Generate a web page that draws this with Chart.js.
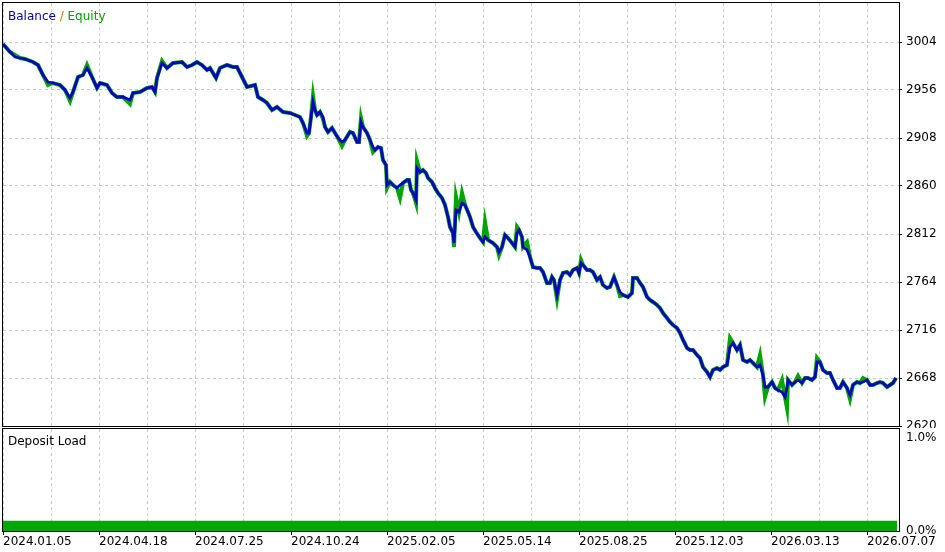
<!DOCTYPE html>
<html>
<head>
<meta charset="utf-8">
<script src="https://cdn.jsdelivr.net/npm/chart.js@4/dist/chart.umd.min.js"></script>
<style>
    html, body { margin: 0; padding: 0; background: #fff; }
    #balanceChart { position: absolute; left: 0; top: 0; }
    #loadChart { position: absolute; left: 0; top: 428px; }
</style>
</head>
<body>
<canvas id="balanceChart" width="945" height="428"></canvas>
<canvas id="loadChart" width="945" height="124"></canvas>
<script>
// deal number (x) for every sample
const deals = [
    0, 7, 12, 17, 22, 30, 35, 40, 45, 50,
    57, 62, 67, 70, 75, 80, 84, 89, 94, 97,
    104, 109, 114, 120, 127, 130, 137, 144, 149, 152,
    154, 159, 164, 170, 179, 184, 189, 194, 199, 204,
    207, 213, 217, 224, 230, 234, 239, 244, 252, 255,
    260, 264, 269, 274, 280, 287, 292, 297, 300, 304,
    306, 308, 310, 312, 314, 317, 320, 322, 325, 329,
    332, 335, 339, 342, 345, 347, 350, 354, 356, 358,
    360, 364, 367, 370, 372, 375, 378, 380, 383, 384,
    387, 390, 394, 397, 400, 404, 406, 408, 410, 413,
    414, 417, 420, 423, 425, 429, 432, 435, 439, 442,
    445, 447, 450, 451, 453, 456, 459, 462, 465, 467,
    470, 473, 477, 480, 482, 485, 490, 494, 496, 499,
    502, 505, 509, 512, 514, 516, 519, 520, 524, 527,
    530, 534, 537, 540, 544, 547, 549, 551, 554, 557,
    560, 564, 567, 570, 574, 576, 578, 580, 584, 587,
    590, 594, 597, 600, 604, 607, 611, 614, 617, 620,
    625, 629, 630, 634, 637, 640, 644, 647, 650, 654,
    657, 660, 664, 667, 670, 674, 677, 680, 684, 687,
    690, 694, 697, 700, 704, 707, 710, 714, 717, 720,
    724, 727, 730, 734, 737, 740, 744, 747, 750, 754,
    757, 760, 762, 765, 769, 772, 775, 779, 782, 784,
    785, 789, 792, 795, 799, 802, 805, 809, 812, 814,
    817, 820, 824, 827, 830, 834, 837, 840, 844, 847,
    850, 854, 857, 860, 864, 867, 870, 874, 877, 880,
    884, 887, 890, 893
];

const balance = [
    3002, 2994, 2989, 2988, 2987, 2984, 2981, 2971, 2964, 2963,
    2961, 2956, 2948, 2954, 2969, 2971, 2978, 2969, 2958, 2963,
    2961, 2953, 2949, 2949, 2946, 2953, 2954, 2958, 2959, 2954,
    2968, 2983, 2978, 2983, 2984, 2979, 2981, 2984, 2981, 2976,
    2978, 2968, 2978, 2981, 2979, 2979, 2969, 2959, 2961, 2949,
    2946, 2943, 2936, 2939, 2934, 2933, 2931, 2929, 2923, 2913,
    2913, 2929, 2944, 2936, 2931, 2934, 2929, 2919, 2914, 2918,
    2913, 2908, 2904, 2906, 2911, 2914, 2913, 2904, 2904, 2924,
    2919, 2913, 2906, 2899, 2896, 2899, 2898, 2886, 2881, 2861,
    2864, 2861, 2858, 2861, 2863, 2866, 2866, 2856, 2853, 2846,
    2878, 2874, 2876, 2873, 2868, 2864, 2858, 2853, 2848, 2841,
    2829, 2819, 2813, 2803, 2836, 2834, 2843, 2841, 2834, 2829,
    2819, 2814, 2808, 2804, 2809, 2806, 2803, 2799, 2794, 2799,
    2811, 2808, 2803, 2799, 2813, 2816, 2809, 2799, 2796, 2789,
    2779, 2778, 2778, 2774, 2763, 2763, 2769, 2766, 2751, 2766,
    2773, 2774, 2771, 2776, 2778, 2773, 2783, 2781, 2776, 2776,
    2774, 2766, 2769, 2761, 2758, 2759, 2769, 2761, 2754, 2751,
    2749, 2753, 2768, 2768, 2763, 2759, 2749, 2746, 2744, 2741,
    2738, 2733, 2728, 2724, 2721, 2718, 2713, 2706, 2698, 2696,
    2696, 2691, 2688, 2679, 2674, 2669, 2676, 2678, 2676, 2679,
    2681, 2699, 2703, 2696, 2701, 2686, 2684, 2686, 2683, 2679,
    2681, 2671, 2659, 2659, 2664, 2658, 2656, 2654, 2649, 2659,
    2666, 2661, 2664, 2666, 2663, 2668, 2668, 2666, 2669, 2684,
    2684, 2676, 2673, 2673, 2666, 2658, 2658, 2664, 2658, 2651,
    2661, 2664, 2663, 2664, 2666, 2661, 2661, 2663, 2664, 2663,
    2659, 2661, 2663, 2668
];

const equity = [
    3002, 2994, 2991, 2988, 2987, 2984, 2981, 2971, 2961, 2963,
    2961, 2956, 2945, 2954, 2969, 2971, 2981, 2969, 2958, 2963,
    2961, 2953, 2949, 2949, 2942, 2953, 2954, 2958, 2959, 2954,
    2968, 2985, 2978, 2983, 2984, 2979, 2981, 2984, 2981, 2976,
    2978, 2968, 2978, 2981, 2979, 2979, 2969, 2959, 2961, 2949,
    2946, 2943, 2936, 2939, 2934, 2933, 2931, 2929, 2923, 2910,
    2913, 2929, 2950, 2936, 2931, 2934, 2927, 2919, 2914, 2918,
    2913, 2908, 2900, 2906, 2911, 2914, 2913, 2904, 2904, 2928,
    2919, 2913, 2906, 2894, 2896, 2899, 2898, 2886, 2881, 2858,
    2864, 2861, 2858, 2848, 2863, 2866, 2866, 2856, 2853, 2843,
    2885, 2874, 2876, 2873, 2868, 2864, 2858, 2853, 2848, 2841,
    2829, 2819, 2813, 2799, 2849, 2834, 2853, 2841, 2834, 2829,
    2819, 2814, 2808, 2804, 2824, 2806, 2803, 2799, 2791, 2799,
    2811, 2808, 2803, 2799, 2819, 2816, 2809, 2799, 2804, 2789,
    2779, 2778, 2778, 2774, 2763, 2763, 2769, 2766, 2747, 2766,
    2773, 2774, 2771, 2776, 2778, 2773, 2786, 2781, 2776, 2776,
    2774, 2766, 2769, 2761, 2758, 2759, 2769, 2761, 2750, 2751,
    2749, 2753, 2768, 2768, 2763, 2759, 2749, 2746, 2744, 2741,
    2738, 2733, 2728, 2724, 2721, 2718, 2713, 2706, 2698, 2696,
    2696, 2691, 2688, 2679, 2674, 2669, 2676, 2678, 2676, 2679,
    2681, 2708, 2703, 2696, 2701, 2686, 2684, 2686, 2683, 2679,
    2691, 2671, 2649, 2659, 2664, 2658, 2656, 2666, 2649, 2638,
    2666, 2661, 2664, 2670, 2663, 2668, 2668, 2666, 2669, 2688,
    2684, 2676, 2673, 2673, 2666, 2658, 2658, 2664, 2658, 2647,
    2661, 2664, 2663, 2668, 2666, 2661, 2661, 2663, 2664, 2663,
    2659, 2661, 2663, 2668
];

// deposit load (%) steps
const loadDeals = [0, 453, 894];
const loadPct = [0.10, 0.11, 0.11];

const dateLabels = [
    "2024.01.05", "2024.04.18", "2024.07.25", "2024.10.24", "2025.02.05",
    "2025.05.14", "2025.08.25", "2025.12.03", "2026.03.13", "2026.07.07"
];
const balanceTicks = [2620, 2668, 2716, 2764, 2812, 2860, 2908, 2956, 3004];
const loadTicks = [0, 1];

const FONT = '"DejaVu Sans", sans-serif';
const GRID = "#c8c8c8";
const BLUE = "#0000c4";
const GREEN = "#00a600";
const DEAL_MAX = 896;
const GRID_STEP = 48;

function gridValues() {
    var vals = [];
    for (let v = 0; v < DEAL_MAX; v += GRID_STEP) {
        vals.push(v);
    }
    return vals;
}

function toPoints(xs, ys) {
    return xs.map((x, i) => ({ x: x, y: ys[i] }));
}

function noPadding(axis) {
    axis.paddingTop = 0;
    axis.paddingBottom = 0;
    axis.paddingLeft = 0;
    axis.paddingRight = 0;
}

// black frame around each panel plus the caption text
function framePlugin(drawCaption) {
    return {
        id: "frame",
        afterDraw(chart) {
            const a = chart.chartArea;
            const ctx = chart.ctx;
            ctx.save();
            ctx.strokeStyle = "#000";
            ctx.lineWidth = 1;
            ctx.strokeRect(Math.round(a.left) - 0.5, Math.round(a.top) - 0.5,
                Math.round(a.right - a.left) + 1, Math.round(a.bottom - a.top) + 1);
            drawCaption(ctx);
            ctx.restore();
        },
    };
}

function balanceCaption(ctx) {
    ctx.font = "12px " + FONT;
    ctx.textBaseline = "middle";
    ctx.textAlign = "left";
    var x = 8;
    const parts = [["Balance", "#0000a0"], [" / ", "#e07000"], ["Equity", "#00a000"]];
    for (let i = 0; i < parts.length; i++) {
        ctx.fillStyle = parts[i][1];
        ctx.fillText(parts[i][0], x, 16.5);
        x += ctx.measureText(parts[i][0]).width;
    }
}

function loadCaption(ctx) {
    ctx.font = "12px " + FONT;
    ctx.textBaseline = "middle";
    ctx.textAlign = "left";
    ctx.fillStyle = "#000";
    ctx.fillText("Deposit Load", 8, 13.5);
}

function xScale(showLabels) {
    return {
        type: "linear",
        min: 0,
        max: DEAL_MAX,
        afterBuildTicks: (axis) => {
            axis.ticks = gridValues().map((v) => ({ value: v }));
        },
        afterFit: (axis) => {
            axis.height = showLabels ? 21 : 0;
            noPadding(axis);
        },
        border: { display: false, dash: [3, 3] },
        grid: {
            color: GRID,
            lineWidth: 1,
            drawTicks: showLabels,
            tickLength: 4,
            tickColor: (c) => (c.index % 2 === 0 ? "#000" : "rgba(0,0,0,0)"),
        },
        ticks: {
            display: showLabels,
            autoSkip: false,
            maxRotation: 0,
            align: "start",
            padding: 0,
            color: "#000",
            font: { family: FONT, size: 12 },
            callback: (value, index) => (index % 2 === 0 ? dateLabels[index / 2] : ""),
        },
    };
}

function renderBalance() {
    const ctx = document.getElementById("balanceChart");
    const cfg = {
        type: "line",
        data: {
            datasets: [
                {
                    label: "Balance",
                    data: toPoints(deals, balance),
                    borderColor: BLUE,
                    borderWidth: 2.8,
                    pointRadius: 0,
                    tension: 0,
                },
                {
                    label: "Equity",
                    data: toPoints(deals, equity),
                    borderColor: GREEN,
                    borderWidth: 4,
                    pointRadius: 0,
                    tension: 0,
                },
            ],
        },
        options: {
            responsive: false,
            animation: false,
            devicePixelRatio: 1,
            layout: { padding: { left: 3, top: 3, bottom: 2, right: 0 } },
            plugins: { legend: { display: false }, tooltip: { enabled: false } },
            scales: {
                x: xScale(false),
                y: {
                    position: "right",
                    min: 2620,
                    max: 3043,
                    afterBuildTicks: (axis) => {
                        axis.ticks = balanceTicks.map((v) => ({ value: v }));
                    },
                    afterFit: (axis) => {
                        axis.width = 46;
                        noPadding(axis);
                    },
                    border: { display: false, dash: [3, 3] },
                    grid: {
                        color: GRID,
                        tickLength: 3,
                        tickColor: "#000",
                    },
                    ticks: {
                        padding: 4,
                        color: "#000",
                        font: { family: FONT, size: 12 },
                        callback: (v) => String(v),
                    },
                },
            },
        },
        plugins: [framePlugin(balanceCaption)],
    };
    return new Chart(ctx, cfg);
}

function renderLoad() {
    const ctx = document.getElementById("loadChart");
    const cfg = {
        type: "line",
        data: {
            datasets: [
                {
                    label: "Deposit Load",
                    data: toPoints(loadDeals, loadPct),
                    borderWidth: 0,
                    borderColor: "#00a800",
                    backgroundColor: "#00a800",
                    fill: "origin",
                    stepped: "after",
                    pointRadius: 0,
                },
            ],
        },
        options: {
            responsive: false,
            animation: false,
            devicePixelRatio: 1,
            layout: { padding: { left: 3, top: 1, bottom: 0, right: 0 } },
            plugins: { legend: { display: false }, tooltip: { enabled: false } },
            scales: {
                x: xScale(true),
                y: {
                    position: "right",
                    min: 0,
                    max: 1.097,
                    afterBuildTicks: (axis) => {
                        axis.ticks = loadTicks.map((v) => ({ value: v }));
                    },
                    afterFit: (axis) => {
                        axis.width = 46;
                        noPadding(axis);
                    },
                    border: { display: false },
                    grid: { drawOnChartArea: false, drawTicks: false },
                    ticks: {
                        padding: 7,
                        color: "#000",
                        font: { family: FONT, size: 12 },
                        callback: (v) => v.toFixed(1) + "%",
                    },
                },
            },
        },
        plugins: [framePlugin(loadCaption)],
    };
    return new Chart(ctx, cfg);
}

renderBalance();
renderLoad();
</script>
</body>
</html>
